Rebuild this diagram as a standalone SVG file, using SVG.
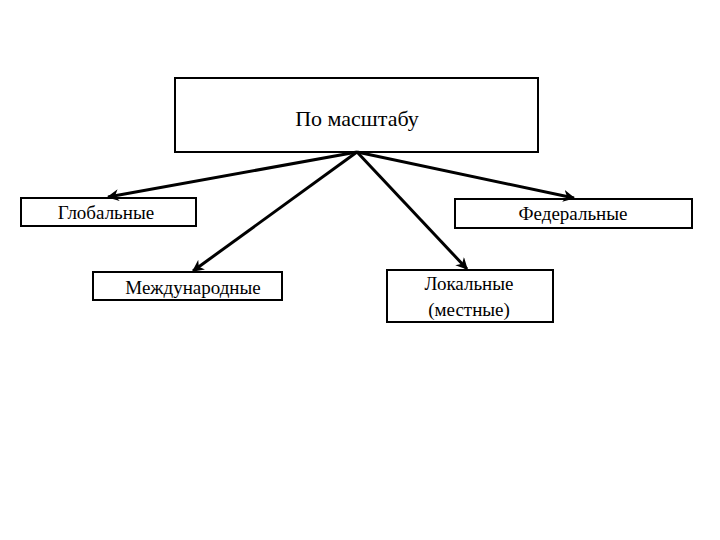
<svg xmlns="http://www.w3.org/2000/svg" width="720" height="540" viewBox="0 0 720 540">
<style>
rect{fill:#fff;stroke:#000;stroke-width:2}
text{font-family:"Liberation Serif",serif;font-size:19px;fill:#000;text-anchor:middle}
.c line{stroke:#000;stroke-width:3;marker-end:url(#a)}
</style>
<defs><marker id="a" viewBox="0 0 10 10" refX="9" refY="5" markerWidth="4" markerHeight="4" orient="auto" markerUnits="strokeWidth"><path d="M0,0L10,5L0,10L3,5Z" fill="#000"/></marker></defs>
<rect width="720" height="540" style="stroke:none"/>
<g id="top"><rect x="175" y="78" width="363" height="74"/><text x="357" y="126" style="font-size:22px">По масштабу</text></g>
<g id="glob"><rect x="21" y="198" width="175" height="28"/><text x="106" y="219">Глобальные</text></g>
<g id="fed"><rect x="455" y="199" width="237" height="29"/><text x="573" y="220">Федеральные</text></g>
<g id="mezh"><rect x="93" y="272" width="189" height="28"/><text x="193" y="294">Международные</text></g>
<g id="lok"><rect x="387" y="270" width="166" height="52"/><text x="469" y="290">Локальные</text><text x="469" y="316">(местные)</text></g>
<g class="c">
<line x1="357" y1="152" x2="108" y2="197"/>
<line x1="357" y1="152" x2="193" y2="271"/>
<line x1="357" y1="152" x2="467" y2="269"/>
<line x1="357" y1="152" x2="574" y2="198"/>
</g>
</svg>
